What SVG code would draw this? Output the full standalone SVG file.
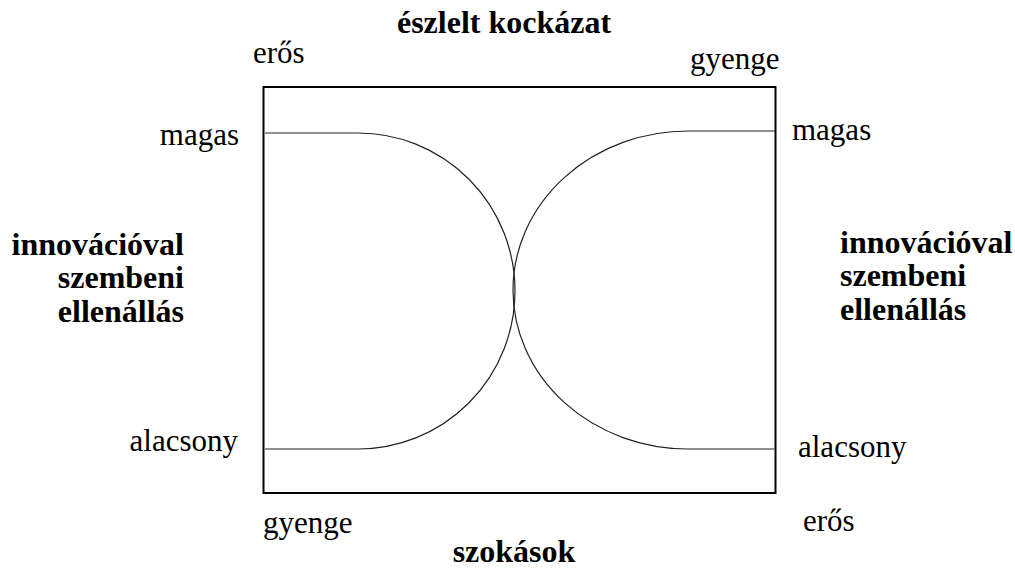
<svg xmlns="http://www.w3.org/2000/svg" width="1015" height="581" viewBox="0 0 1015 581">
<style>
.t{font-size:31px;fill:#000}
.b{font-size:32px;font-weight:bold;fill:#000}
.c{fill:none;stroke:#222;stroke-width:1.2}
</style>
<rect width="1015" height="581" fill="#fff"/>
<g id="frame"><rect x="263.5" y="87" width="512" height="406" fill="none" stroke="#000" stroke-width="2"/></g>
<g id="connectors">
<path class="c" d="M265,133 H358 A157,158 0 0 1 358,449 H265"/>
<path class="c" d="M775,131 H688 A175,159 0 0 0 688,449 H774"/>
</g>
<g font-family="Liberation Serif, DejaVu Serif, serif">
<g id="top-title"><text class="b" x="504" y="33" text-anchor="middle">észlelt kockázat</text></g>
<g id="bottom-title"><text class="b" x="514" y="562" text-anchor="middle">szokások</text></g>
<g id="top-left"><text class="t" x="253" y="63">erős</text></g>
<g id="top-right"><text class="t" x="690" y="69">gyenge</text></g>
<g id="bottom-left"><text class="t" x="263" y="533">gyenge</text></g>
<g id="bottom-right"><text class="t" x="803" y="531">erős</text></g>
<g id="left-high"><text class="t" x="239" y="145" text-anchor="end">magas</text></g>
<g id="right-high"><text class="t" x="792" y="140">magas</text></g>
<g id="left-low"><text class="t" x="238" y="451" text-anchor="end">alacsony</text></g>
<g id="right-low"><text class="t" x="798" y="457">alacsony</text></g>
<g id="left-axis">
<text class="b" text-anchor="end"><tspan x="184" y="255">innovációval</tspan><tspan x="184" y="288">szembeni</tspan><tspan x="184" y="322">ellenállás</tspan></text>
</g>
<g id="right-axis">
<text class="b"><tspan x="840" y="253">innovációval</tspan><tspan x="840" y="286">szembeni</tspan><tspan x="840" y="320">ellenállás</tspan></text>
</g>
</g>
</svg>
